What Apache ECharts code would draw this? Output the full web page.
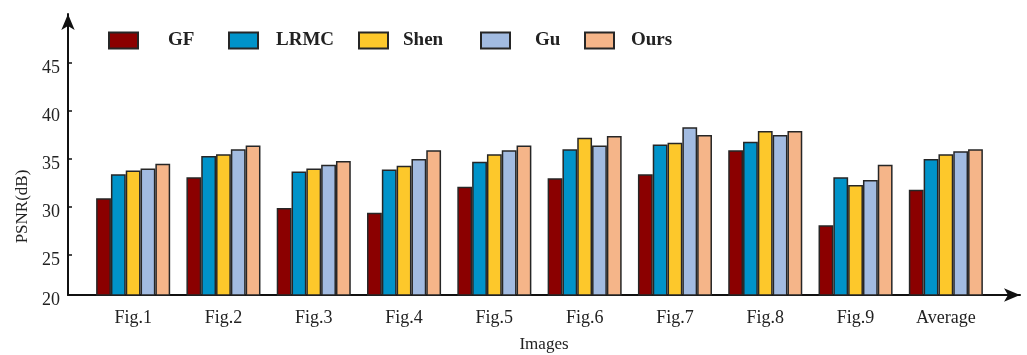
<!DOCTYPE html>
<html>
<head>
<meta charset="utf-8">
<script src="https://cdn.jsdelivr.net/npm/echarts@6/dist/echarts.min.js"></script>
<style>
  html, body { margin: 0; padding: 0; background: #fff; }
  #chart { width: 1027px; height: 355px; }
</style>
</head>
<body>
<div id="chart"></div>
<script>
// PSNR (dB) of each method on each test image
const categories = ['Fig.1', 'Fig.2', 'Fig.3', 'Fig.4', 'Fig.5', 'Fig.6', 'Fig.7', 'Fig.8', 'Fig.9', 'Average'];
const methodNames = ['GF', 'LRMC', 'Shen', 'Gu', 'Ours'];
const gfValues   = [30.9, 33.1, 29.9, 29.4, 32.1, 33.0, 33.4, 35.9, 28.1, 31.8];
const lrmcValues = [33.4, 35.3, 33.7, 33.9, 34.7, 36.0, 36.5, 36.8, 33.1, 35.0];
const shenValues = [33.8, 35.5, 34.0, 34.3, 35.5, 37.2, 36.7, 37.9, 32.3, 35.5];
const guValues   = [34.0, 36.0, 34.4, 35.0, 35.9, 36.4, 38.3, 37.5, 32.8, 35.8];
const oursValues = [34.5, 36.4, 34.8, 35.9, 36.4, 37.4, 37.5, 37.9, 34.4, 36.0];
const yTickLabels = [20, 25, 30, 35, 40, 45];

const methodValues = [gfValues, lrmcValues, shenValues, guValues, oursValues];
const fillColors = ['#8b0000', '#0093c9', '#fdc82b', '#a2bbe1', '#f5b589'];
// legend swatch left edges and gap to the text
const legendLefts = [108, 228, 358, 480, 584];
const legendTextPad = [25, 13, 10, 20, 12];

const FONT = '"Liberation Serif", "DejaVu Serif", serif';
const yMin = 20.83;   // value sitting on the drawn x axis line
const yMax = 50.1;

const chart = echarts.init(document.getElementById('chart'), null, { renderer: 'canvas' });

const series = methodNames.map((name, i) => ({
  name,
  type: 'bar',
  xAxisIndex: 0,
  yAxisIndex: 0,
  data: methodValues[i],
  barGap: '0%',
  barCategoryGap: '18%',
  itemStyle: { color: fillColors[i], borderColor: '#262626', borderWidth: 1.5 },
  emphasis: { disabled: true }
}));

const legends = methodNames.map((name, i) => ({
  data: [name],
  left: legendLefts[i],
  top: 31,
  padding: 0,
  icon: 'rect',
  itemWidth: 29,
  itemHeight: 16,
  selectedMode: false,
  textStyle: {
    fontFamily: FONT, fontSize: 19, fontWeight: 'bold', color: '#222',
    padding: [0, 0, 0, legendTextPad[i]]
  }
}));

chart.setOption({
  animation: false,
  legend: legends,
  grid: [
    // bars
    { left: 88, right: 36, top: 14, bottom: 60, outerBoundsMode: 'none' },
    // framing axes with arrows
    { left: 68, right: 7, top: 14, bottom: 60, outerBoundsMode: 'none' }
  ],
  xAxis: [
    {
      type: 'category',
      gridIndex: 0,
      data: categories,
      axisLine: { show: false },
      axisTick: { show: false },
      axisLabel: { fontFamily: FONT, fontSize: 18, color: '#222', margin: 14 }
    },
    {
      type: 'value',
      gridIndex: 1,
      min: 0,
      max: 1,
      name: 'Images',
      nameLocation: 'middle',
      nameGap: 41,
      nameTextStyle: { fontFamily: FONT, fontSize: 17, color: '#222' },
      axisLine: { show: true, lineStyle: { color: '#111', width: 2 }, symbol: ['none', 'arrow'], symbolSize: [10, 16] },
      axisTick: { show: false },
      axisLabel: { show: false },
      splitLine: { show: false }
    }
  ],
  yAxis: [
    {
      type: 'value',
      gridIndex: 0,
      min: yMin,
      max: yMax,
      show: false,
      splitLine: { show: false }
    },
    {
      type: 'value',
      gridIndex: 1,
      min: yMin,
      max: yMax,
      name: 'PSNR(dB)',
      nameLocation: 'middle',
      nameGap: 34,
      nameTextStyle: { fontFamily: FONT, fontSize: 17, color: '#222', padding: [0, 104, 0, 0] },
      axisLine: { show: true, lineStyle: { color: '#111', width: 2 }, symbol: ['none', 'arrow'], symbolSize: [10, 16] },
      axisTick: {
        show: true, inside: true, length: 4,
        lineStyle: { color: '#111', width: 1.5 },
        customValues: yTickLabels.filter(v => v > yMin)
      },
      axisLabel: {
        fontFamily: FONT, fontSize: 18, color: '#222', margin: 8,
        verticalAlign: 'top', lineHeight: 10,
        customValues: yTickLabels.map(v => Math.max(v, yMin)),
        formatter: v => String(Math.round(v / 5) * 5)
      },
      splitLine: { show: false }
    }
  ],
  series
});
</script>
</body>
</html>
